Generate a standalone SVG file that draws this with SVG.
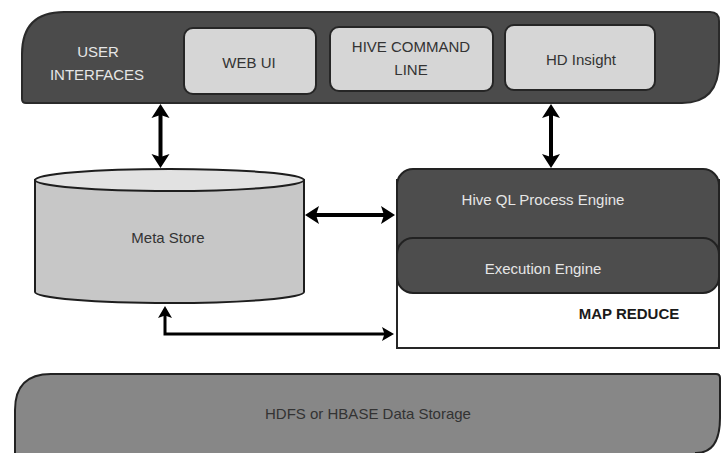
<svg xmlns="http://www.w3.org/2000/svg" width="722" height="453" viewBox="0 0 722 453">
  <style>
    text { font-family: "Liberation Sans", Arial, sans-serif; text-anchor: middle; }
    .lbl-dark { fill: #e6e6e6; font-size: 15px; }
    .lbl { fill: #333333; font-size: 15px; }
    .bar { fill: #4b4b4b; stroke: #2a2a2a; stroke-width: 2; }
    .box { fill: #d6d6d6; stroke: #262626; stroke-width: 2; }
    .engine { fill: #4d4d4d; stroke: #222222; stroke-width: 2; }
    .conn { fill: none; stroke: #000000; stroke-width: 4; }
    .conn-thin { fill: none; stroke: #000000; stroke-width: 3; }
  </style>
  <defs>
    <marker id="head" viewBox="0 0 14 20" refX="10" refY="10" markerWidth="14" markerHeight="20" markerUnits="userSpaceOnUse" orient="auto-start-reverse">
      <path d="M0,1 L14,10 L0,19 L3,10 Z" fill="#000"/>
    </marker>
    <marker id="head-s" viewBox="0 0 12 16" refX="9" refY="8" markerWidth="12" markerHeight="16" markerUnits="userSpaceOnUse" orient="auto-start-reverse">
      <path d="M0,1 L12,8 L0,15 L2.5,8 Z" fill="#000"/>
    </marker>
  </defs>

  <rect width="722" height="453" fill="#ffffff"/>

  <!-- user interface layer -->
  <g id="user-interfaces">
    <path class="bar" d="M22,99 L22,54 Q22,12 64,12 L710,12 Q719,12 719,21 L719,62 Q719,103 682,103 L26,103 Q22,103 22,99 Z"/>
    <text class="lbl-dark" x="98" y="57">USER</text>
    <text class="lbl-dark" x="97" y="80">INTERFACES</text>
  </g>
  <g id="web-ui">
    <rect class="box" x="184" y="28" width="132" height="66" rx="9"/>
    <text class="lbl" x="249" y="68">WEB UI</text>
  </g>
  <g id="hive-command-line">
    <rect class="box" x="330" y="27" width="163" height="64" rx="9"/>
    <text class="lbl" x="411" y="52">HIVE COMMAND</text>
    <text class="lbl" x="411" y="75">LINE</text>
  </g>
  <g id="hd-insight">
    <rect class="box" x="505" y="25" width="150" height="65" rx="9"/>
    <text class="lbl" x="581" y="65">HD Insight</text>
  </g>

  <!-- metadata store -->
  <g id="meta-store">
    <path d="M35,180 L35,292 A134.5,11 0 0 0 304,292 L304,180 Z" fill="#c7c7c7" stroke="#1e1e1e" stroke-width="2"/>
    <ellipse cx="169.5" cy="180" rx="134.5" ry="11" fill="#e2e2e2" stroke="#1e1e1e" stroke-width="2"/>
    <text class="lbl" x="168" y="243">Meta Store</text>
  </g>

  <!-- query processing -->
  <g id="map-reduce">
    <rect x="397" y="180" width="322" height="168" fill="#ffffff" stroke="#262626" stroke-width="2"/>
    <text x="629" y="319" style="font-size:15px;font-weight:bold;fill:#1a1a1a">MAP REDUCE</text>
  </g>
  <g id="hive-ql-engine">
    <rect class="engine" x="397" y="169" width="322" height="90" rx="16"/>
    <text class="lbl-dark" x="543" y="205">Hive QL Process Engine</text>
  </g>
  <g id="execution-engine">
    <rect class="engine" x="397" y="238" width="322" height="55" rx="16"/>
    <text class="lbl-dark" x="543" y="274">Execution Engine</text>
  </g>

  <!-- storage layer -->
  <g id="data-storage">
    <path d="M15,455 L15,410 Q15,374 51,374 L716,374 Q720,374 720,378 L720,418 Q720,453 696,453 L696,455 Z" fill="#878787" stroke="#222222" stroke-width="2"/>
    <text class="lbl" x="368" y="419">HDFS or HBASE Data Storage</text>
  </g>

  <!-- connectors -->
  <g id="connectors">
    <line class="conn" x1="160.5" y1="108" x2="160.5" y2="164" marker-start="url(#head)" marker-end="url(#head)"/>
    <line class="conn" x1="551" y1="108" x2="551" y2="164" marker-start="url(#head)" marker-end="url(#head)"/>
    <line class="conn" x1="309" y1="215" x2="391" y2="215" marker-start="url(#head)" marker-end="url(#head)"/>
    <polyline class="conn-thin" points="165,309 165,334 391,334" marker-start="url(#head-s)" marker-end="url(#head-s)"/>
  </g>
</svg>
